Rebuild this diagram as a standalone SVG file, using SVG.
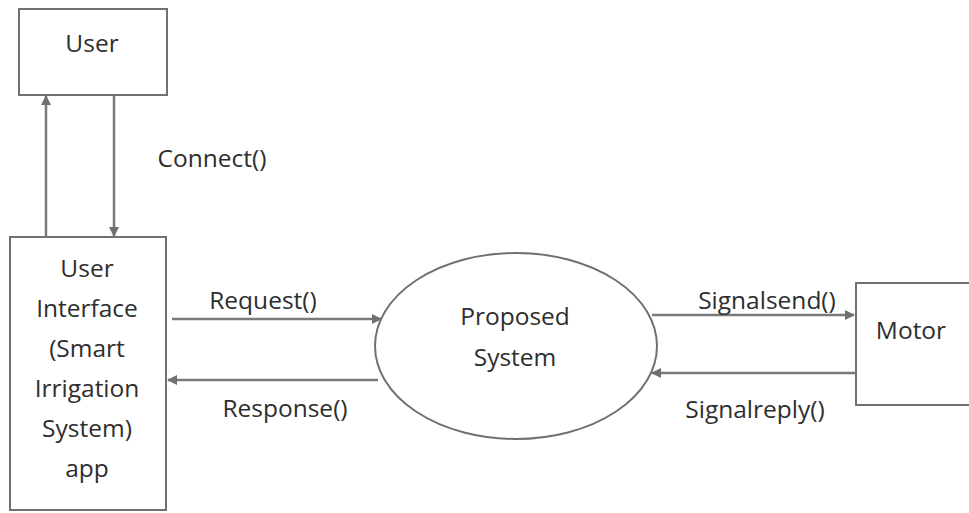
<svg xmlns="http://www.w3.org/2000/svg" width="969" height="513" viewBox="0 0 969 513">
<defs>
<marker id="ah" viewBox="0 0 10 10" refX="9" refY="5" markerWidth="10" markerHeight="10" markerUnits="userSpaceOnUse" orient="auto">
<path d="M0,0 L10,5 L0,10 z" fill="#707070"/>
</marker>
<style>
.box{fill:#fff;stroke:#707070;stroke-width:2}
.t{font-family:"Open Sans","Liberation Sans",sans-serif;font-size:24.5px;fill:#2e2e2e;text-anchor:middle;dominant-baseline:central}
.c{stroke:#7a7a7a;stroke-width:2.5;fill:none;marker-end:url(#ah)}
</style>
</defs>
<rect width="969" height="513" fill="#fff"/>
<g id="user">
<rect class="box" x="19" y="9" width="148" height="86"/>
<text class="t" x="92" y="42">User</text>
</g>
<g id="ui">
<rect class="box" x="10" y="237" width="156" height="273"/>
<text class="t" x="87" y="267">User</text>
<text class="t" x="87" y="307">Interface</text>
<text class="t" x="87" y="347">(Smart</text>
<text class="t" x="87" y="387">Irrigation</text>
<text class="t" x="87" y="427">System)</text>
<text class="t" x="87" y="467">app</text>
</g>
<g id="proposed">
<ellipse class="box" cx="516" cy="346" rx="141" ry="93"/>
<text class="t" x="515" y="315">Proposed</text>
<text class="t" x="515" y="356">System</text>
</g>
<g id="motor">
<rect class="box" x="856" y="283" width="120" height="122"/>
<text class="t" x="911" y="329">Motor</text>
</g>
<g id="connectors">
<line class="c" x1="46" y1="237" x2="46" y2="96"/>
<line class="c" x1="114" y1="96" x2="114" y2="236"/>
<line class="c" x1="172" y1="319" x2="381" y2="319"/>
<line class="c" x1="378" y1="380" x2="168" y2="380"/>
<line class="c" x1="652" y1="315" x2="854" y2="315"/>
<line class="c" x1="856" y1="373" x2="652" y2="373"/>
</g>
<g id="labels">
<text class="t" x="212" y="157">Connect()</text>
<text class="t" x="263" y="299">Request()</text>
<text class="t" x="285" y="407">Response()</text>
<text class="t" x="767" y="299">Signalsend()</text>
<text class="t" x="755" y="408">Signalreply()</text>
</g>
</svg>
